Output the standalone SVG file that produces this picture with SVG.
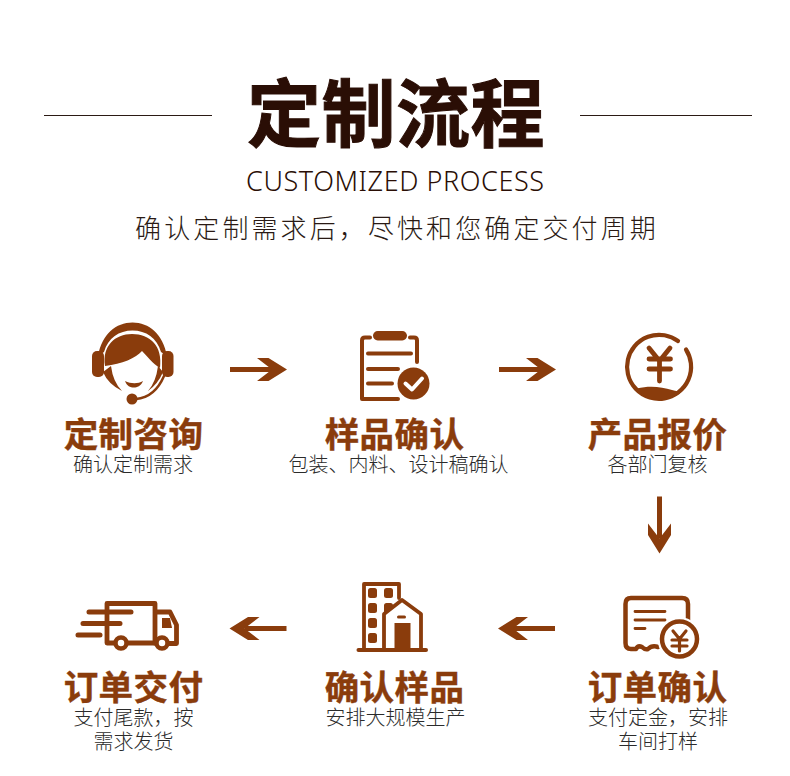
<svg xmlns="http://www.w3.org/2000/svg" width="790" height="776" viewBox="0 0 790 776">
<style>
.cjk{font-family:"Noto Sans CJK SC","Noto Sans CJK TC",sans-serif}
.t{font-size:34.500px;font-weight:700;fill:#8a3c0c;stroke:#8a3c0c;stroke-width:.4px;text-anchor:middle;letter-spacing:.4px}
.s{font-size:20px;font-weight:300;fill:#2b2b2b;text-anchor:middle}
.ln{fill:none;stroke:#8a3c0c;stroke-linecap:round;stroke-linejoin:round}
.f{fill:#8a3c0c}
</style>
<defs>
<g id="ar"><path class="f" d="M-28-2.500H14V2.500H-28Z"/><path class="f" d="M-1-11.500H10.500L29 0L10.500 11.500H-1L14 0Z"/></g>
</defs>
<rect width="790" height="776" fill="#fff"/>
<g id="header">
<path d="M44 115.500H212M580 115.500H752" stroke="#2b1a14" stroke-width="1"/>
<text class="cjk" x="396" y="141" font-size="74" font-weight="700" fill="#2a0e05" stroke="#2a0e05" stroke-width="1" text-anchor="middle" letter-spacing=".5">定制流程</text>
<text x="395" y="191" font-family="'Noto Sans',sans-serif" font-size="27" font-weight="300" fill="#2a0e05" text-anchor="middle" textLength="298">CUSTOMIZED PROCESS</text>
<text class="cjk" x="397" y="238" font-size="26" font-weight="300" fill="#2a1a14" text-anchor="middle" letter-spacing="3.100">确认定制需求后，尽快和您确定交付周期</text>
</g>
<g id="connectors">
<use href="#ar" x="258" y="369.500"/>
<use href="#ar" x="527" y="369.500"/>
<use href="#ar" transform="translate(659.500 524.500) rotate(90)"/>
<use href="#ar" transform="translate(527 628.500) rotate(180)"/>
<use href="#ar" transform="translate(258.500 628.500) rotate(180)"/>
</g>
<g id="node-consult">
<path class="f" d="M98 356C102 334 116 322.500 132.500 322.500C149 322.500 163 334 167 356L161 352C157 338 146 330.500 132.500 330.500C119 330.500 108 338 104 352Z"/>
<path class="f" d="M105 366C102 346 115 334 132 334C150 334 163 346 160 368C153 364 146 355 142 351C136 358 122 364 105 366Z"/>
<rect class="f" x="92" y="351" width="12" height="26" rx="5"/>
<rect class="f" x="162" y="351" width="11.500" height="26" rx="5"/>
<path class="f" d="M103 372Q108 384 122 391Q113 382 111 366Z"/>
<path class="f" d="M163 372Q158 384 148 391Q156 382 158 366Z"/>
<path class="f" d="M125 381C131 384 138 384 143 381C141 386 137 387.500 134 387.500C130 387.500 127 386 125 381Z"/>
<circle class="f" cx="132" cy="399" r="5.500"/>
<path class="ln" d="M136 399C148 398 158 390 164 376" stroke-width="2.500"/>
<text class="cjk t" x="133.500" y="447">定制咨询</text>
<text class="cjk s" x="133" y="472">确认定制需求</text>
</g>
<g id="node-sample">
<rect class="f" x="373" y="331" width="34" height="9.500" rx="4.700"/>
<path class="ln" d="M370 337.500H365Q362 337.500 362 340.500V399H398M410 337.500H414Q417 337.500 417 340.500V362" stroke-width="4"/>
<path class="ln" d="M368 353.500H411M368 369H398M368 383.500H392" stroke-width="4"/>
<circle class="f" cx="413.500" cy="383.500" r="16"/>
<path d="M405.500 383.500L412 389.500L422 378.500" fill="none" stroke="#fff" stroke-width="4" stroke-linecap="round" stroke-linejoin="round"/>
<text class="cjk t" x="394.500" y="447">样品确认</text>
<text class="cjk s" x="398.500" y="472">包装、内料、设计稿确认</text>
</g>
<g id="node-quote">
<path class="ln" d="M686 349.500A32 32 0 1 1 678 341" stroke-width="4.200"/>
<path class="f" d="M637 388.500C650 385 662 387 672 390C676 391 680 391.500 682 391.500C676 397 668 400 659 400C650 400 642 395.500 637 388.500Z"/>
<path class="ln" d="M649 348L659.500 361L670 348M649 359H670.500M649 369H670.500M659.500 361V381" stroke-width="4.800"/>
<text class="cjk t" x="657.500" y="447">产品报价</text>
<text class="cjk s" x="657.500" y="472">各部门复核</text>
</g>
<g id="node-confirm-order">
<path class="ln" d="M688 622V604Q688 598 682 598H631Q625.500 598 625.500 604V643Q625.500 649 631 649H636Q638 645 642 647Q645 650 648 649Q652 645 658 647" stroke-width="4.500"/>
<path class="ln" d="M635 611.500H665M635 620H665M635 628.500H645" stroke-width="2.800"/>
<circle cx="679.500" cy="639" r="22" fill="#fff"/>
<circle cx="679.500" cy="639" r="17.500" fill="#fff" stroke="#8a3c0c" stroke-width="4.500"/>
<path class="ln" d="M673 631L679.500 639L686 631M672 640H687M672 646H687M679.500 639V651" stroke-width="3.200"/>
<text class="cjk t" x="657.500" y="700">订单确认</text>
<text class="cjk s" x="658" y="725">支付定金，安排</text>
<text class="cjk s" x="658" y="749">车间打样</text>
</g>
<g id="node-confirm-sample">
<path class="ln" d="M364 649V584H399V598" stroke-width="3.800"/>
<path d="M384 648V614L402 600L421 614V648" fill="#fff" stroke="#8a3c0c" stroke-width="3.800" stroke-linejoin="round"/>
<path class="ln" d="M358.500 650H426" stroke-width="4"/>
<g class="f">
<rect x="368" y="588" width="9" height="10" rx="2.500"/><rect x="384" y="588" width="9" height="10" rx="2.500"/>
<rect x="368" y="603" width="9" height="10" rx="2.500"/><path d="M384 605.500Q384 603 386.500 603H390.500Q393 603 393 605.500V606L384 613Z"/>
<rect x="368" y="618" width="9" height="10" rx="2.500"/>
<rect x="368" y="633" width="9" height="10" rx="2.500"/>
<rect x="394.500" y="623" width="16" height="26"/>
<rect x="397" y="615.500" width="9" height="3" rx="1.500"/>
</g>
<text class="cjk t" x="394.500" y="700">确认样品</text>
<text class="cjk s" x="395.500" y="725">安排大规模生产</text>
</g>
<g id="node-delivery">
<path class="ln" d="M115 643H107V603.500H155V643H127M155 612H170L176.500 625V643.500H168" stroke-width="4.800"/>
<path class="ln" d="M155 643H156M89 612H131M83 623.500H120M78 635H100" stroke-width="5"/>
<path class="f" d="M162 618H170L172 628H162Z"/>
<circle cx="121" cy="643" r="5.500" fill="#fff" stroke="#8a3c0c" stroke-width="4.500"/>
<circle cx="162" cy="643" r="5.500" fill="#fff" stroke="#8a3c0c" stroke-width="4.500"/>
<text class="cjk t" x="133.500" y="700">订单交付</text>
<text class="cjk s" x="133.500" y="725">支付尾款，按</text>
<text class="cjk s" x="133.500" y="749">需求发货</text>
</g>
</svg>
